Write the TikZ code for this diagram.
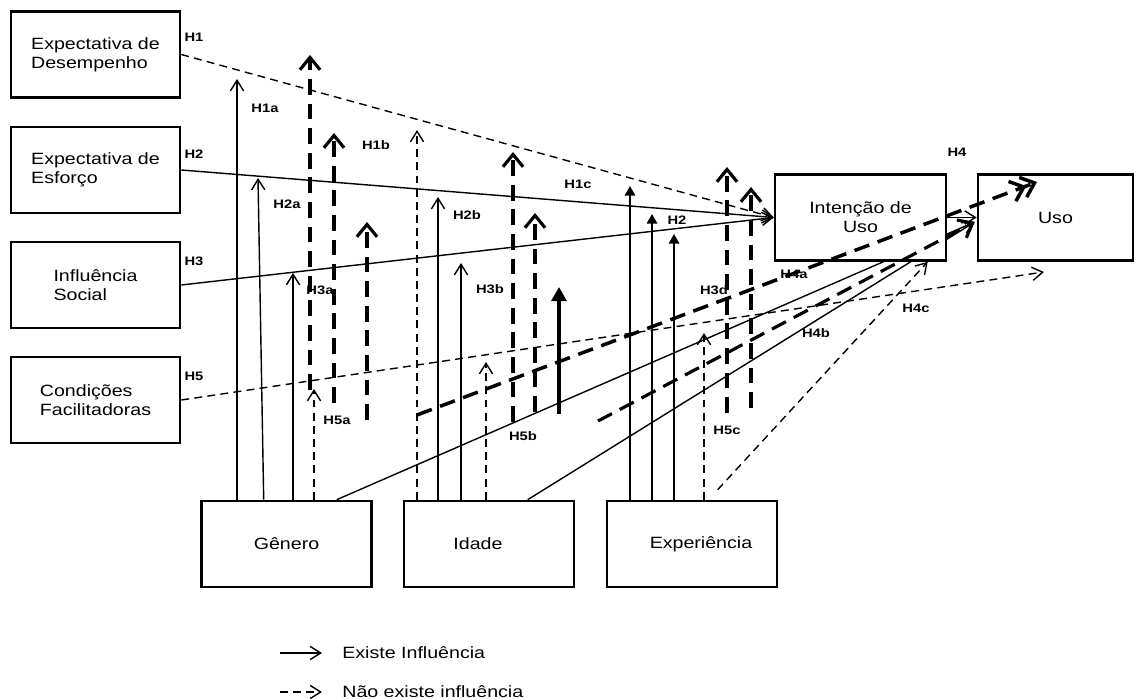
\documentclass[tikz,border=0pt]{standalone}
\usepackage{fontspec}
\setmainfont{Liberation Sans}[FakeStretch=1.2]
\usepackage{tikz}
\usetikzlibrary{calc, positioning, arrows.meta}
\pgfdeclarelayer{back}
\pgfsetlayers{back,main}
\tikzset{
    frame/.style={rectangle, draw=black, line width=1.5pt, fill=white, inner sep=0pt, minimum width=3.38cm, minimum height=1.72cm, font=\fontsize{9.3}{10.8}\selectfont},
    box/.style={frame, align=left},
    hyp/.style={inner sep=0pt, font=\fontsize{7}{8}\selectfont\bfseries},
    yes/.style={line width=0.8pt, -{Straight Barb[length=6pt, width=7.5pt]}},
    no/.style={yes, dash pattern=on 4.5pt off 3pt},
    yesfill/.style={line width=0.9pt, -{Triangle[length=5.5pt, width=6pt]}},
    bigno/.style={line width=1.8pt, dash pattern=on 9pt off 5pt, -{Straight Barb[length=7pt, width=11.5pt]}},
    bigyes/.style={line width=1.8pt, -{Triangle[length=8pt, width=8.5pt]}},
    legend/.style={anchor=west, inner sep=0pt, font=\fontsize{9.3}{10.8}\selectfont}
}
\begin{document}
\begin{tikzpicture}[x=0.02cm, y=-0.02cm]
    \useasboundingbox (0,0) rectangle (1137,699);

    % --- CONSTRUCTS ---
    \node[box] (ed) at (95.5,54.5) {Expectativa de\\Desempenho};
    \node[box] (ee) at (95.5,170) {Expectativa de\\Esforço};
    \node[box] (is) at (95.5,285) {Influência\\Social};
    \node[box] (cf) at (95.5,400) {Condições\\Facilitadoras};
    \node[frame, align=center, minimum width=3.42cm] (int) at (860.5,217.5) {Intenção de\\Uso};
    \node[frame, minimum width=3.1cm] (uso) at (1055.5,217.5) {Uso};

    % --- MODERATORS ---
    \node[frame, minimum width=3.4cm] (gen) at (286.5,544) {Gênero};
    \node[frame, minimum width=3.4cm] (ida) at (489,544) {Idade\kern0.44cm};
    \node[frame, minimum width=3.4cm] (exp) at (692,544) {\kern0.36cm Experiência};

    % free ends
    \coordinate (usoin) at ($(uso.west)+(-2,4.5)$);
    \coordinate (h5end) at (1044,272);
    \coordinate (bigtip) at (1037,182);

    % --- MAIN PATHS ---
    \draw[no] (ed.east) -- (int.west);
    \draw[yes] (ee.east) -- (int.west);
    \draw[yes] (is.east) -- (int.west);
    \draw[no] (cf.east) -- (h5end);
    \draw[yes] (int.east) -- (uso.west);

    % lines to Uso run behind Intencao de Uso
    \begin{pgfonlayer}{back}
        \draw[yes] ($(gen.north west)+(136.5,0)$) -- (usoin);
        \draw[yes] ($(ida.north west)+(125,0)$) -- (usoin);
    \end{pgfonlayer}
    \draw[no] ($(exp.north west)+(112,-10)$) -- ($(int.south west)+(154,0)$);

    % --- GENERO ---
    \coordinate (t1a) at (237,79);
    \coordinate (t2a) at (258,178);
    \coordinate (t3a) at (293,273);
    \coordinate (t5a) at (314,389);
    \draw[yes] (gen.north -| t1a) -- (t1a);
    \draw[yes] ($(gen.north west)+(63.5,0)$) -- (t2a);
    \draw[yes] (gen.north -| t3a) -- (t3a);
    \draw[no] (gen.north -| t5a) -- (t5a);

    % --- IDADE ---
    \coordinate (t1b) at (417,130);
    \coordinate (t2b) at (438,197);
    \coordinate (t3b) at (461,263);
    \coordinate (t5b) at (486,362);
    \draw[no] (ida.north -| t1b) -- (t1b);
    \draw[yes] (ida.north -| t2b) -- (t2b);
    \draw[yes] (ida.north -| t3b) -- (t3b);
    \draw[no] (ida.north -| t5b) -- (t5b);

    % --- EXPERIENCIA ---
    \coordinate (t1c) at (630,186);
    \coordinate (t2c) at (652,214);
    \coordinate (t3c) at (674,234);
    \coordinate (t5c) at (704,333);
    \draw[yesfill] (exp.north -| t1c) -- (t1c);
    \draw[yesfill] (exp.north -| t2c) -- (t2c);
    \draw[yesfill] (exp.north -| t3c) -- (t3c);
    \draw[no] (exp.north -| t5c) -- (t5c);

    % --- thick arrows ---
    \draw[bigno] (310,390) -- (310,55);
    \draw[bigno] (334,403) -- (334,133);
    \draw[bigno] (367,420) -- (367,222);
    \draw[bigno] (513,422) -- (513,152);
    \draw[bigno] (535,412) -- (535,213);
    \draw[bigyes] (559,414) -- (559,287);
    \draw[bigno] (727,413) -- (727,167);
    \draw[bigno] (751,408) -- (751,187);
    \draw[bigno] (598,421) -- (usoin);
    \draw[line width=2pt, dash pattern=on 9pt off 5pt, -{Straight Barb[length=7pt, width=12pt, sep=-3pt] Straight Barb[length=7pt, width=12pt]}] (417,415) -- (bigtip);

    % --- Hypotheses ---
    \node[hyp] (h1) at (194,37) {H1};
    \node[hyp] (h2) at (194,154) {H2};
    \node[hyp] (h3) at (194,261) {H3};
    \node[hyp] (h5) at (194,376) {H5};
    \node[hyp] (h4) at (957,152) {H4};
    \node[hyp] (h1a) at (265,108) {H1a};
    \node[hyp] (h2a) at (287,204) {H2a};
    \node[hyp] (h3a) at (320,290) {H3a};
    \node[hyp] (h5a) at (337,420) {H5a};
    \node[hyp] (h1b) at (376,145) {H1b};
    \node[hyp] (h2b) at (467,215) {H2b};
    \node[hyp] (h3b) at (490,289) {H3b};
    \node[hyp] (h5b) at (523,436) {H5b};
    \node[hyp] (h1c) at (578,184) {H1c};
    \node[hyp] (h2c) at (677,220) {H2};
    \node[hyp] (h3d) at (714,290) {H3d};
    \node[hyp] (h5c) at (727,430) {H5c};
    \node[hyp] (h4a) at (794,274) {H4a};
    \node[hyp] (h4b) at (816,333) {H4b};
    \node[hyp] (h4c) at (916,308) {H4c};

    % Legend
    \node[legend] (leg1) at (342,653) {Existe Influência};
    \node[legend] (leg2) at (342,692) {Não existe influência};
    \draw[yes] (leg1.west) ++(-62,0) -- ++(42,0);
    \draw[no] (leg2.west) ++(-62,0) -- ++(42,0);

\end{tikzpicture}
\end{document}
